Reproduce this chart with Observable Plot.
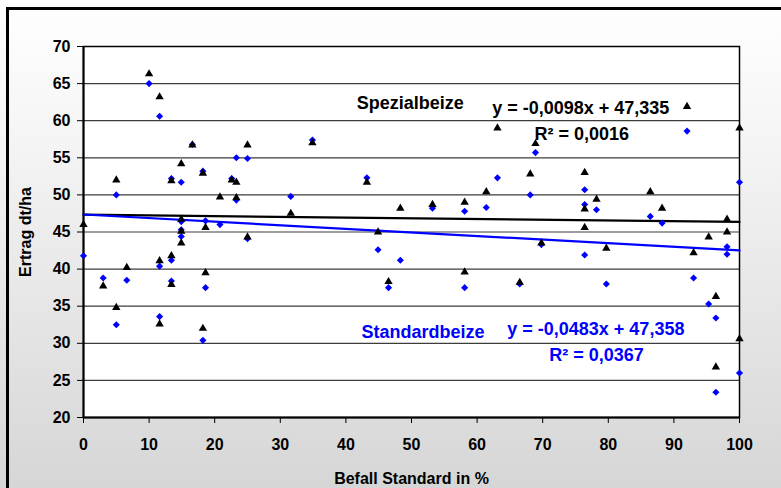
<!DOCTYPE html>
<html>
<head>
<meta charset="utf-8">
<script src="https://cdn.jsdelivr.net/npm/d3@7"></script>
<script src="https://cdn.jsdelivr.net/npm/@observablehq/plot@0.6"></script>
<style>
  html, body { margin: 0; padding: 0; }
  body { width: 781px; height: 488px; overflow: hidden; position: relative;
         background: linear-gradient(to bottom, #ffffff 0%, #f4f4f4 30%, #d6d6d6 100%); }
  #frame { position: absolute; left: 6px; top: 7px; width: 900px; height: 600px;
           border-left: 3px solid #000; border-top: 3px solid #000; box-sizing: border-box; }
  #chart { position: absolute; left: 0; top: 0; }
</style>
</head>
<body>
<div id="frame"></div>
<div id="chart"></div>
<script>
// Befall Standard in % (x) for each plot
const befall = [0, 3.0, 5.0, 5.0, 6.6, 10.0, 11.6, 11.6, 11.6, 13.4, 13.4, 13.4, 14.9, 14.9, 14.9, 14.9,
  16.6, 18.2, 18.2, 18.6, 18.6, 20.8, 22.6, 23.3, 23.3, 25.0, 25.0, 31.6, 34.9, 43.2, 44.9, 46.5,
  48.3, 53.2, 58.1, 58.1, 61.4, 63.1, 66.5, 68.1, 68.9, 69.8, 76.4, 76.4, 76.4, 78.2, 79.7, 86.4,
  88.2, 92.0, 93.0, 95.3, 96.4, 96.4, 98.1, 98.1, 100, 100];
// Ertrag dt/ha Spezialbeize (triangles)
const spezial = [46.0, 37.7, 52.0, 34.8, 40.2, 66.3, 63.2, 41.1, 32.6, 51.9, 41.8, 37.9, 54.2, 46.7, 45.1, 43.5,
  56.7, 52.9, 32.0, 45.6, 39.5, 49.7, 52.0, 51.7, 49.6, 56.7, 44.3, 47.5, 57.0, 51.7, 45.0, 38.3,
  48.2, 48.7, 49.0, 39.6, 50.4, 59.0, 38.2, 52.8, 56.9, 43.5, 53.0, 48.1, 45.6, 49.4, 42.8, 50.4,
  48.2, 61.9, 42.2, 44.3, 36.3, 26.8, 46.7, 45.0, 59.0, 30.6];
// Ertrag dt/ha Standardbeize (diamonds)
const standard = [41.8, 38.8, 50.0, 32.5, 38.5, 65.0, 60.6, 40.4, 33.6, 52.2, 41.2, 38.4, 51.7, 46.4, 45.3, 44.4,
  56.8, 53.2, 30.4, 46.5, 37.5, 46.0, 52.2, 55.0, 49.3, 54.9, 44.1, 49.8, 57.4, 52.3, 42.6, 37.5,
  41.2, 48.2, 47.8, 37.5, 48.3, 52.3, 38.0, 50.0, 55.7, 43.3, 50.7, 48.7, 41.9, 48.0, 38.0, 47.1,
  46.2, 58.6, 38.8, 35.3, 33.4, 23.4, 43.0, 42.0, 51.7, 26.0];

// Linear trend lines (from the chart's equations)
const trendSpezial = {slope: -0.0098, intercept: 47.335};
const trendStandard = {slope: -0.0483, intercept: 47.358};
const trendRange = [0, 100];

// Axis ticks
const xTicks = [0, 10, 20, 30, 40, 50, 60, 70, 80, 90, 100];
const yTicks = [20, 25, 30, 35, 40, 45, 50, 55, 60, 65, 70];
const gridTicks = [25, 30, 35, 40, 45, 50, 55, 60, 65];

// Labels
const xLabel = "Befall Standard in %";
const yLabel = "Ertrag dt/ha";
const spezialName = "Spezialbeize";
const standardName = "Standardbeize";
const spezialEq = "y = -0,0098x + 47,335";
const spezialR2 = "R² = 0,0016";
const standardEq = "y = -0,0483x + 47,358";
const standardR2 = "R² = 0,0367";

const spezialPts = befall.map((x, i) => ({x, y: spezial[i]}));
const standardPts = befall.map((x, i) => ({x, y: standard[i]}));
const lineOf = t => trendRange.map(x => ({x, y: t.intercept + t.slope * x}));

const font = "'Liberation Sans', Arial, sans-serif";

const chart = Plot.plot({
  width: 781,
  height: 488,
  marginLeft: 83,
  marginRight: 42,
  marginTop: 46,
  marginBottom: 71,
  style: {background: "transparent", fontFamily: font, fontWeight: "bold", fontSize: "16px", color: "#000"},
  x: {domain: [0, 100]},
  y: {domain: [20, 70]},
  marks: [
    Plot.frame({fill: "white", stroke: null}),
    Plot.gridY(gridTicks, {stroke: "#3c3c3c", strokeOpacity: 1, strokeWidth: 1.2}),
    Plot.frame({stroke: "#000", strokeWidth: 1.5}),
    Plot.ruleX([0], {stroke: "#000", strokeWidth: 2}),
    Plot.ruleY([20], {stroke: "#000", strokeWidth: 2}),
    Plot.axisX(xTicks, {tickSize: 6, tickPadding: 15, stroke: "#000", fontSize: 16,
      label: xLabel, labelAnchor: "center", labelArrow: "none", labelOffset: 66}),
    Plot.axisY(yTicks, {tickSize: 6, tickPadding: 7, stroke: "#000", fontSize: 16,
      label: yLabel, labelAnchor: "center", labelArrow: "none", labelOffset: 64}),
    Plot.line(lineOf(trendSpezial), {x: "x", y: "y", stroke: "#000", strokeWidth: 2.2}),
    Plot.line(lineOf(trendStandard), {x: "x", y: "y", stroke: "#0000ff", strokeWidth: 2.2}),
    Plot.dot(standardPts, {x: "x", y: "y", symbol: "diamond2", r: 3.2, fill: "#0000ff", stroke: "none"}),
    Plot.dot(spezialPts, {x: "x", y: "y", symbol: "triangle", r: 3.1, fill: "#000", stroke: "none"}),
    Plot.text([spezialName], {x: 49.8, y: 62.4, text: d => d, fill: "#000", fontSize: 18, fontFamily: font, fontWeight: "bold"}),
    Plot.text([spezialEq], {x: 75.8, y: 61.7, text: d => d, fill: "#000", fontSize: 18, fontFamily: font, fontWeight: "bold"}),
    Plot.text([spezialR2], {x: 75.95, y: 58.2, text: d => d, fill: "#000", fontSize: 18, fontFamily: font, fontWeight: "bold"}),
    Plot.text([standardName], {x: 51.75, y: 31.5, text: d => d, fill: "#0000ff", fontSize: 18, fontFamily: font, fontWeight: "bold"}),
    Plot.text([standardEq], {x: 78.1, y: 31.9, text: d => d, fill: "#0000ff", fontSize: 18, fontFamily: font, fontWeight: "bold"}),
    Plot.text([standardR2], {x: 78.2, y: 28.4, text: d => d, fill: "#0000ff", fontSize: 18, fontFamily: font, fontWeight: "bold"})
  ]
});
document.getElementById("chart").appendChild(chart);
</script>
</body>
</html>
